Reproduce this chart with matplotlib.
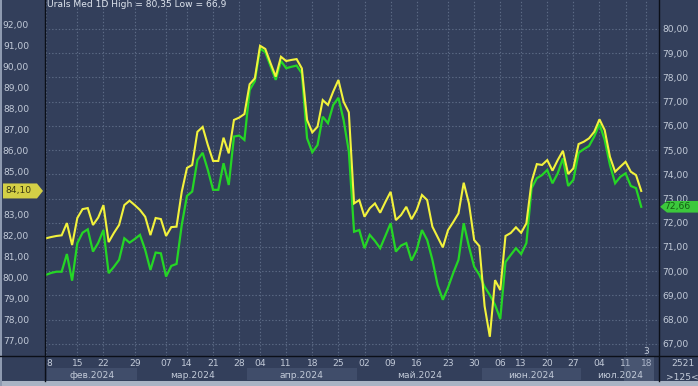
import matplotlib
matplotlib.use("Agg")
import matplotlib.pyplot as plt
import numpy as np
import datetime as dt
from matplotlib.patches import Rectangle, Polygon
from matplotlib.lines import Line2D
from matplotlib.transforms import blended_transform_factory

title = "Urals Med 1D High = 80,35 Low = 66,9"

week_starts = ["2024-02-08", "2024-02-15", "2024-02-22", "2024-02-29", "2024-03-07",
               "2024-03-14", "2024-03-21", "2024-03-28", "2024-04-04", "2024-04-11",
               "2024-04-18", "2024-04-25", "2024-05-02", "2024-05-09", "2024-05-16",
               "2024-05-23", "2024-05-30", "2024-06-06", "2024-06-13", "2024-06-20",
               "2024-06-27", "2024-07-04", "2024-07-11", "2024-07-18"]
week_labels = ["8", "15", "22", "29", "07", "14", "21", "28", "04", "11", "18", "25",
               "02", "09", "16", "23", "30", "06", "13", "20", "27", "04", "11", "18"]
points_per_week = [6, 5, 6, 6, 4, 5, 5, 4, 5, 5, 5, 5, 5, 5, 6, 5, 5, 4, 5, 5, 5, 5, 4]
month_labels = ["фев.2024", "мар.2024", "апр.2024", "май.2024", "июн.2024", "июл.2024"]

# yellow series, left scale
urals_left = [81.86, 81.92, 81.97, 82.00, 82.58, 81.54, 82.82, 83.24, 83.29, 82.49,
              82.84, 83.43, 81.68, 82.11, 82.49, 83.43, 83.64, 83.43, 83.20, 82.88,
              82.01, 82.82, 82.77, 81.97, 82.39, 82.41, 84.06, 85.19, 85.33, 86.90,
              87.13, 86.27, 85.52, 85.52, 86.62, 85.88, 87.46, 87.57, 87.74, 89.15,
              89.43, 90.97, 90.82, 90.15, 89.51, 90.45, 90.25, 90.30, 90.34, 89.90,
              87.46, 86.87, 87.14, 88.40, 88.17, 88.80, 89.35, 88.32, 87.82, 83.51,
              83.67, 82.88, 83.28, 83.51, 83.07, 83.58, 84.06, 82.72, 82.96, 83.35,
              82.76, 83.20, 83.91, 83.67, 82.41, 81.92, 81.43, 82.25, 82.63, 83.04,
              84.49, 83.51, 81.78, 81.49, 78.65, 77.20, 79.88, 79.41, 81.97, 82.11,
              82.38, 82.12, 82.57, 84.54, 85.37, 85.33, 85.56, 85.06, 85.56, 86.00,
              84.90, 85.17, 86.32, 86.43, 86.59, 86.90, 87.49, 86.98, 85.72, 85.01,
              85.25, 85.48, 85.01, 84.85, 84.10]
# green series, right scale
urals_right = [69.85, 69.93, 69.98, 69.98, 70.71, 69.61, 71.16, 71.59, 71.73, 70.81,
               71.17, 71.70, 69.92, 70.18, 70.47, 71.36, 71.18, 71.33, 71.50, 70.88,
               70.05, 70.77, 70.74, 69.78, 70.22, 70.30, 71.91, 73.11, 73.29, 74.59,
               74.89, 74.18, 73.36, 73.36, 74.46, 73.56, 75.56, 75.60, 75.42, 77.48,
               77.85, 79.20, 79.04, 78.47, 77.90, 78.68, 78.38, 78.44, 78.49, 78.17,
               75.49, 74.91, 75.21, 76.38, 76.11, 76.86, 77.16, 76.24, 74.94, 71.63,
               71.70, 70.95, 71.50, 71.25, 70.95, 71.46, 71.98, 70.81, 71.06, 71.16,
               70.44, 70.88, 71.70, 71.29, 70.47, 69.43, 68.82, 69.33, 69.93, 70.47,
               71.98, 71.02, 70.19, 69.85, 69.36, 69.02, 68.61, 68.03, 70.38, 70.67,
               70.95, 70.71, 71.16, 73.43, 73.84, 73.97, 74.18, 73.63, 74.04, 74.66,
               73.52, 73.77, 74.89, 75.04, 75.17, 75.56, 76.08, 75.42, 74.39, 73.63,
               73.90, 74.04, 73.52, 73.43, 72.66]

left_ticks = list(range(77, 93))
right_ticks = list(range(67, 81))
last_left = 84.10
last_right = 72.66
corner_top = "2521"
corner_bottom = ">125<"
count_label = "3"

# ---- derived calendar ----
offsets = {4: [0, 1, 5, 6], 5: [0, 1, 4, 5, 6], 6: [0, 1, 2, 4, 5, 6]}
dates = []
for ws, n in zip(week_starts, points_per_week):
    d0 = dt.date.fromisoformat(ws)
    for o in offsets[n]:
        dates.append(d0 + dt.timedelta(days=o))
x = np.arange(len(urals_left))
tick_pos = np.concatenate([[0], np.cumsum(points_per_week)])

# ---- style ----
BG = "#333f5b"
BAND = "#404d6a"
GRID = "#5d6b86"
TXT = "#c3cbd9"
YEL = "#f2f23c"
GRN = "#25d625"
FS = 6.6
W, H = 698, 386

fig = plt.figure(figsize=(W / 100, H / 100), dpi=100, facecolor=BG)
ax_l, ax_r, ax_b, ax_t = 45, 659, 356, 0
ax2 = fig.add_axes([ax_l / W, (H - ax_b) / H, (ax_r - ax_l) / W, (ax_b - ax_t) / H])
ax = ax2.twinx()
ax2.yaxis.tick_right()
ax.yaxis.tick_left()
ax.set_zorder(ax2.get_zorder() + 1)
ax.patch.set_visible(False)
ax2.set_facecolor(BG)

xlim = (-0.19, 117.4)
ax2.set_xlim(*xlim)
ax.set_ylim(76.29, 93.136)
ax2.set_ylim(66.50, 81.197)

for a in (ax, ax2):
    for s in a.spines.values():
        s.set_visible(False)

# right scale + horizontal grid
ax2.set_yticks(right_ticks, [f"{v:.2f}".replace(".", ",") for v in right_ticks])
ax2.grid(axis="y", color=GRID, linestyle=(0, (1.2, 1.8)), linewidth=0.8)
ax2.tick_params(axis="y", length=0, pad=2.2, labelsize=FS, labelcolor=TXT)
# time axis + vertical grid
ax2.set_xticks(tick_pos, week_labels)
ax2.grid(axis="x", color=GRID, linestyle=(0, (1.2, 1.8)), linewidth=0.8)
ax2.tick_params(axis="x", length=0, pad=2.5, labelsize=FS, labelcolor=TXT)
ax2.get_xticklabels()[0].set_horizontalalignment("left")

# left scale (label under the last-value tag is hidden, as in the terminal)
ax.set_yticks(left_ticks, ["" if abs(v - last_left) < 0.5 else f"{v:.2f}".replace(".", ",")
                           for v in left_ticks])
ax.tick_params(axis="y", length=0, pad=11.5, labelsize=FS, labelcolor=TXT)
ax.grid(False)

# lines
ax2.plot(x, urals_right, color=GRN, lw=1.6, solid_joinstyle="miter")
ax.plot(x, urals_left, color=YEL, lw=1.5, solid_joinstyle="miter", zorder=4)

# month bands
tb = blended_transform_factory(ax.transData, ax.transAxes)
months = sorted(set(d.month for d in dates))
y0b, y1b = -(380 - ax_b) / ax_b, -(368 - ax_b) / ax_b
for k, (m, lab) in enumerate(zip(months, month_labels)):
    idx = [i for i, d in enumerate(dates) if d.month == m]
    s = max(min(idx) - 0.5, xlim[0] + 0.3)
    e = max(idx) + 0.5 if k < len(months) - 1 else xlim[1]
    if k % 2 == 0:
        ax.add_patch(Rectangle((s, y0b), e - s, y1b - y0b, transform=tb, facecolor=BAND,
                               edgecolor="none", clip_on=False, zorder=0))
    ax.text((s + e) / 2, (y0b + y1b) / 2 - 0.004, lab, transform=tb, ha="center",
            va="center", fontsize=FS, color=TXT, clip_on=False)

# highlighted region at the right end of the time axis
ax.add_patch(Rectangle((tick_pos[-2] - 0.3, -(381 - ax_b) / ax_b),
                       xlim[1] - tick_pos[-2] - 0.6, (381 - ax_b) / ax_b,
                       transform=tb, facecolor="#7a88a6", alpha=0.3, edgecolor="none",
                       clip_on=False, zorder=1))
ax.text(tick_pos[-1], (ax_b - 351) / ax_b, count_label, transform=tb, ha="center",
        va="center", fontsize=FS, color=TXT)

# title
ax.text(0.004, 1.0, title, transform=ax.transAxes, ha="left", va="top",
        fontsize=FS, color="#dfe5ee")

# last value tags
tl = blended_transform_factory(ax.transAxes, ax.transData)
pw = ax_r - ax_l
hy = 7.5 / (ax_b / (93.136 - 76.29))
xa, xb, xc = (3 - ax_l) / pw, (37 - ax_l) / pw, (43 - ax_l) / pw
ax.add_patch(Polygon([[xa, last_left - hy], [xb, last_left - hy], [xc, last_left],
                      [xb, last_left + hy], [xa, last_left + hy]], closed=True,
                     transform=tl, facecolor="#d4d046", edgecolor="none",
                     clip_on=False, zorder=6))
ax.text((5 - ax_l) / pw, last_left, f"{last_left:.2f}".replace(".", ","), transform=tl,
        ha="left", va="center", fontsize=FS, color="#3b3a12", zorder=7, clip_on=False)

tr = blended_transform_factory(ax.transAxes, ax2.transData)
hy2 = 5.8 / (ax_b / (81.197 - 66.50))
xa, xb, xc = (660 - ax_l) / pw, (667 - ax_l) / pw, (700 - ax_l) / pw
ax.add_patch(Polygon([[xa, last_right], [xb, last_right - hy2], [xc, last_right - hy2],
                      [xc, last_right + hy2], [xb, last_right + hy2]], closed=True,
                     transform=tr, facecolor="#3cc83c", edgecolor="none",
                     clip_on=False, zorder=6))
ax.text((664 - ax_l) / pw, last_right, f"{last_right:.2f}".replace(".", ","), transform=tr,
        ha="left", va="center", fontsize=FS, color="#145c14", zorder=7, clip_on=False)

# frame lines
def fline(x0, y0, x1, y1, c="#0b0f18", lw=1.0):
    fig.add_artist(Line2D([x0 / W, x1 / W], [1 - y0 / H, 1 - y1 / H], color=c, lw=lw,
                          transform=fig.transFigure))

fline(0, ax_b, W, ax_b)
fline(ax_l, 0, ax_l, 381)
fline(ax_r, 0, ax_r, 381)
fig.add_artist(Rectangle((0, 0), 1, 5 / H, transform=fig.transFigure, facecolor="#a9b3c4",
                         edgecolor="none"))
fig.add_artist(Rectangle((0, 0), 2 / W, 1, transform=fig.transFigure, facecolor="#8e9ab0",
                         edgecolor="none"))

# corner texts
fig.text(683 / W, 1 - 363 / H, corner_top, ha="center", va="center", fontsize=FS, color=TXT)
fig.text(666 / W, 1 - 377 / H, corner_bottom, ha="left", va="center", fontsize=FS, color=TXT)

fig.savefig("out.png", dpi=100, facecolor=BG)
